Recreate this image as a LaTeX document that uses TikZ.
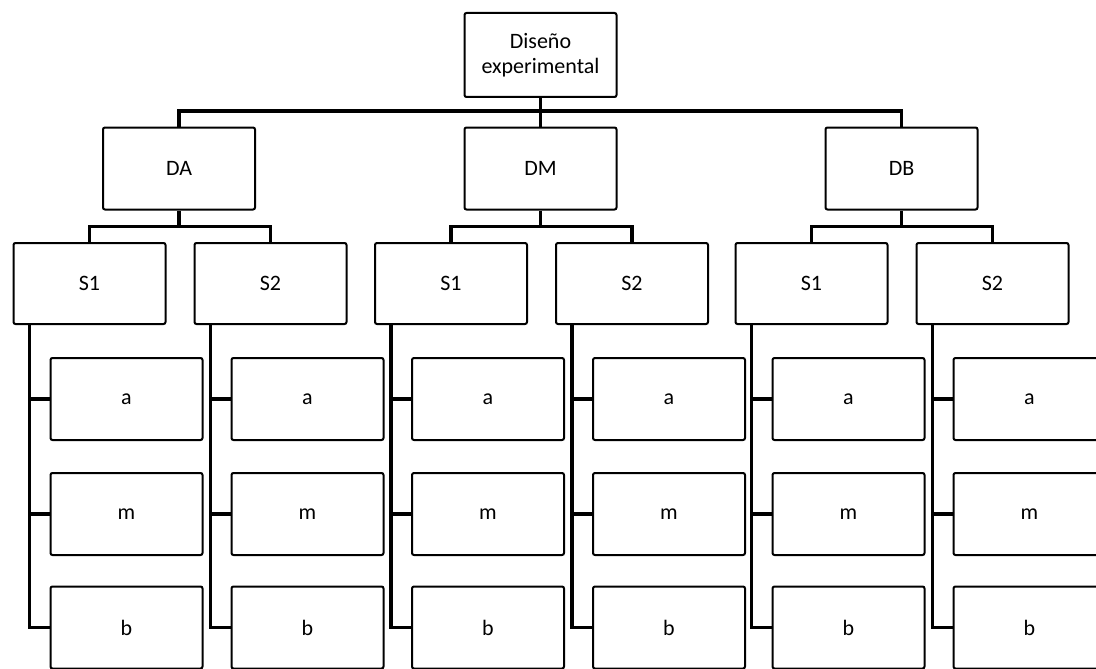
\documentclass[tikz,border=0pt]{standalone}
\usepackage{fontspec}
\setmainfont{Carlito}
\usetikzlibrary{positioning}

\begin{document}
\begin{tikzpicture}[
x=1pt, y=-1pt,
box/.style={draw, rounded corners=2pt, line width=2pt, align=center, minimum width=152pt, minimum height=82pt, inner sep=0pt, font=\fontsize{22}{25}\selectfont},
link/.style={line width=3.2pt}
]
\useasboundingbox (0,0) rectangle (1096,669);
\clip (0,0) rectangle (1096,669);

\node[box, minimum height=84pt] (dis) at (540.5,55) {Diseño\\experimental};

\node[box] (da) at (179,168.5) {DA};
\node[box] (dm) at (540.5,168.5) {DM};
\node[box] (db) at (901.5,168.5) {DB};

\draw[link] (dis.south) -- ++(0,13) coordinate (bus);
\draw[link] (da.north) |- (bus) -| (db.north);
\draw[link] (bus) -- (dm.north);

% levels S1/S2 and a, m, b
\foreach \d/\x in {da/89.5, dm/451, db/811.5} {
  \node[box, minimum height=81pt] (\d-s1) at (\x,283.5) {S1};
  \node[box, minimum height=81pt] (\d-s2) at (\x+181,283.5) {S2};
  \draw[link] (\d.south) -- ++(0,16) coordinate (\d-bus);
  \draw[link] (\d-s1.north) |- (\d-bus) -| (\d-s2.north);
  \foreach \s/\sx in {s1/0, s2/181} {
    \foreach \l/\y in {a/399, m/514, b/627.5}
      \node[box] (\d-\s-\l) at (\x+\sx+37,\y) {\l};
    \draw[link] ([xshift=17pt]\d-\s.south west) |- (\d-\s-b.west);
    \draw[link] (\d-\s-a.west) -- ++(-20,0);
    \draw[link] (\d-\s-m.west) -- ++(-20,0);
  }
}
\end{tikzpicture}
\end{document}
